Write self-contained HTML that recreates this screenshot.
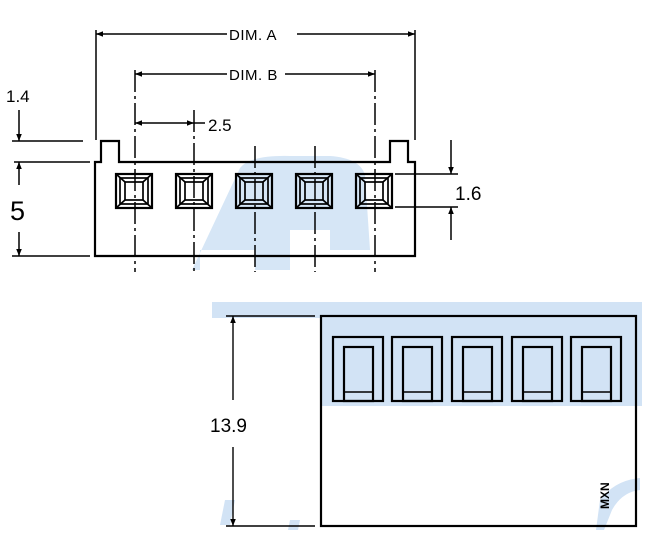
<!DOCTYPE html>
<html><head><style>
html,body{margin:0;padding:0;background:#fff;}
svg{display:block;font-family:"Liberation Sans",Arial,sans-serif;}
</style></head><body>
<svg width="660" height="558" viewBox="0 0 660 558" xmlns="http://www.w3.org/2000/svg">
<defs>
<marker id="ar" viewBox="0 0 10 10" refX="10" refY="5" markerWidth="10" markerHeight="7" orient="auto-start-reverse" markerUnits="userSpaceOnUse"><path d="M0,1 L10,5 L0,9 z" fill="#000"/></marker>
</defs>
<g fill="#d2e3f5">
<path d="M240,168 Q250,155 290,156 L330,156 Q360,158 365,175 L370,250 L330,250 L330,230 L290,230 L290,270 L255,270 L255,250 L200,250 L200,270 L192,270 Z" opacity="0.9"/>
<rect x="212" y="302" width="430" height="104"/>
<path d="M600,500 Q615,480 640,478 L640,490 Q622,492 612,510 L604,530 L596,530 Z"/>
<path d="M225,500 L235,500 L230,525 L220,525 Z"/>
<path d="M290,520 L300,520 L298,530 L288,530 Z"/>
</g>
<rect x="212" y="318" width="110" height="88" fill="#fff"/>
<rect x="322" y="316" width="314" height="90" fill="#d2e3f5"/>
<g stroke="#000" fill="none" stroke-width="1.5">
<line x1="96" y1="30" x2="96" y2="140"/>
<line x1="415" y1="30" x2="415" y2="140"/>
<line x1="96" y1="34" x2="227" y2="34" marker-start="url(#ar)"/>
<line x1="297" y1="34" x2="415" y2="34" marker-end="url(#ar)"/>
<line x1="135" y1="74" x2="227" y2="74" marker-start="url(#ar)"/>
<line x1="285" y1="74" x2="375" y2="74" marker-end="url(#ar)"/>
<line x1="135" y1="123" x2="194" y2="123" marker-start="url(#ar)" marker-end="url(#ar)"/>
<line x1="194" y1="123" x2="205" y2="123"/>
<g stroke-dasharray="22,4,3,4">
<line x1="135" y1="70" x2="135" y2="272"/>
<line x1="194" y1="110" x2="194" y2="272"/>
<line x1="255" y1="146" x2="255" y2="272"/>
<line x1="315" y1="146" x2="315" y2="272"/>
<line x1="375" y1="70" x2="375" y2="272"/>
</g>
<path d="M95,256 L95,162 L101,162 L101,141 L119,141 L119,162 L390,162 L390,141 L408,141 L408,162 L415,162 L415,256 Z" stroke-width="2.2"/>
<line x1="12" y1="141" x2="83" y2="141"/>
<line x1="14" y1="162" x2="90" y2="162"/>
<line x1="12" y1="256" x2="90" y2="256"/>
<line x1="19" y1="110" x2="19" y2="141" marker-end="url(#ar)"/>
<line x1="19" y1="185" x2="19" y2="162" marker-end="url(#ar)"/>
<line x1="19" y1="232" x2="19" y2="256" marker-end="url(#ar)"/>
<line x1="395" y1="174" x2="458" y2="174"/>
<line x1="395" y1="207" x2="458" y2="207"/>
<line x1="451" y1="140" x2="451" y2="174" marker-end="url(#ar)"/>
<line x1="451" y1="240" x2="451" y2="207" marker-end="url(#ar)"/>
</g>
<g stroke="#000" fill="none" stroke-width="1.7">
<g id="pk">
<rect x="116" y="174" width="36" height="34" stroke-width="2.2"/>
<rect x="120" y="178" width="28" height="26"/>
<rect x="125" y="182" width="18" height="18"/>
<line x1="116" y1="174" x2="125" y2="182"/><line x1="152" y1="174" x2="143" y2="182"/>
<line x1="116" y1="208" x2="125" y2="200"/><line x1="152" y1="208" x2="143" y2="200"/>
</g>
<use href="#pk" x="60"/><use href="#pk" x="120"/><use href="#pk" x="180"/><use href="#pk" x="240"/>
</g>
<g stroke="#000" fill="none" stroke-width="1.4">
<line x1="226" y1="316" x2="315" y2="316"/>
<line x1="226" y1="526" x2="315" y2="526"/>
<line x1="233" y1="400" x2="233" y2="316" marker-end="url(#ar)"/>
<line x1="233" y1="447" x2="233" y2="526" marker-end="url(#ar)"/>
<rect x="321" y="316" width="315" height="210" stroke-width="2.2"/>
</g>
<g stroke="#000" fill="none" stroke-width="2.2">
<g id="bp">
<rect x="333" y="337" width="50" height="64"/>
<rect x="344" y="347" width="29" height="54"/>
<line x1="344" y1="392" x2="373" y2="392" stroke-width="1.4"/>
</g>
<use href="#bp" x="59"/><use href="#bp" x="119"/><use href="#bp" x="179"/><use href="#bp" x="238"/>
</g>
<g fill="#000">
<text x="229" y="40" font-size="15" letter-spacing="0.5">DIM. A</text>
<text x="229" y="80" font-size="15" letter-spacing="0.5">DIM. B</text>
<text x="208" y="131" font-size="17">2.5</text>
<text x="6" y="102" font-size="17">1.4</text>
<text x="10" y="220" font-size="27">5</text>
<text x="455" y="200" font-size="19">1.6</text>
<text x="210" y="432" font-size="19">13.9</text>
<text transform="translate(609,509) rotate(-90)" font-size="12" font-weight="bold">MXN</text>
</g>
</svg>
</body></html>
